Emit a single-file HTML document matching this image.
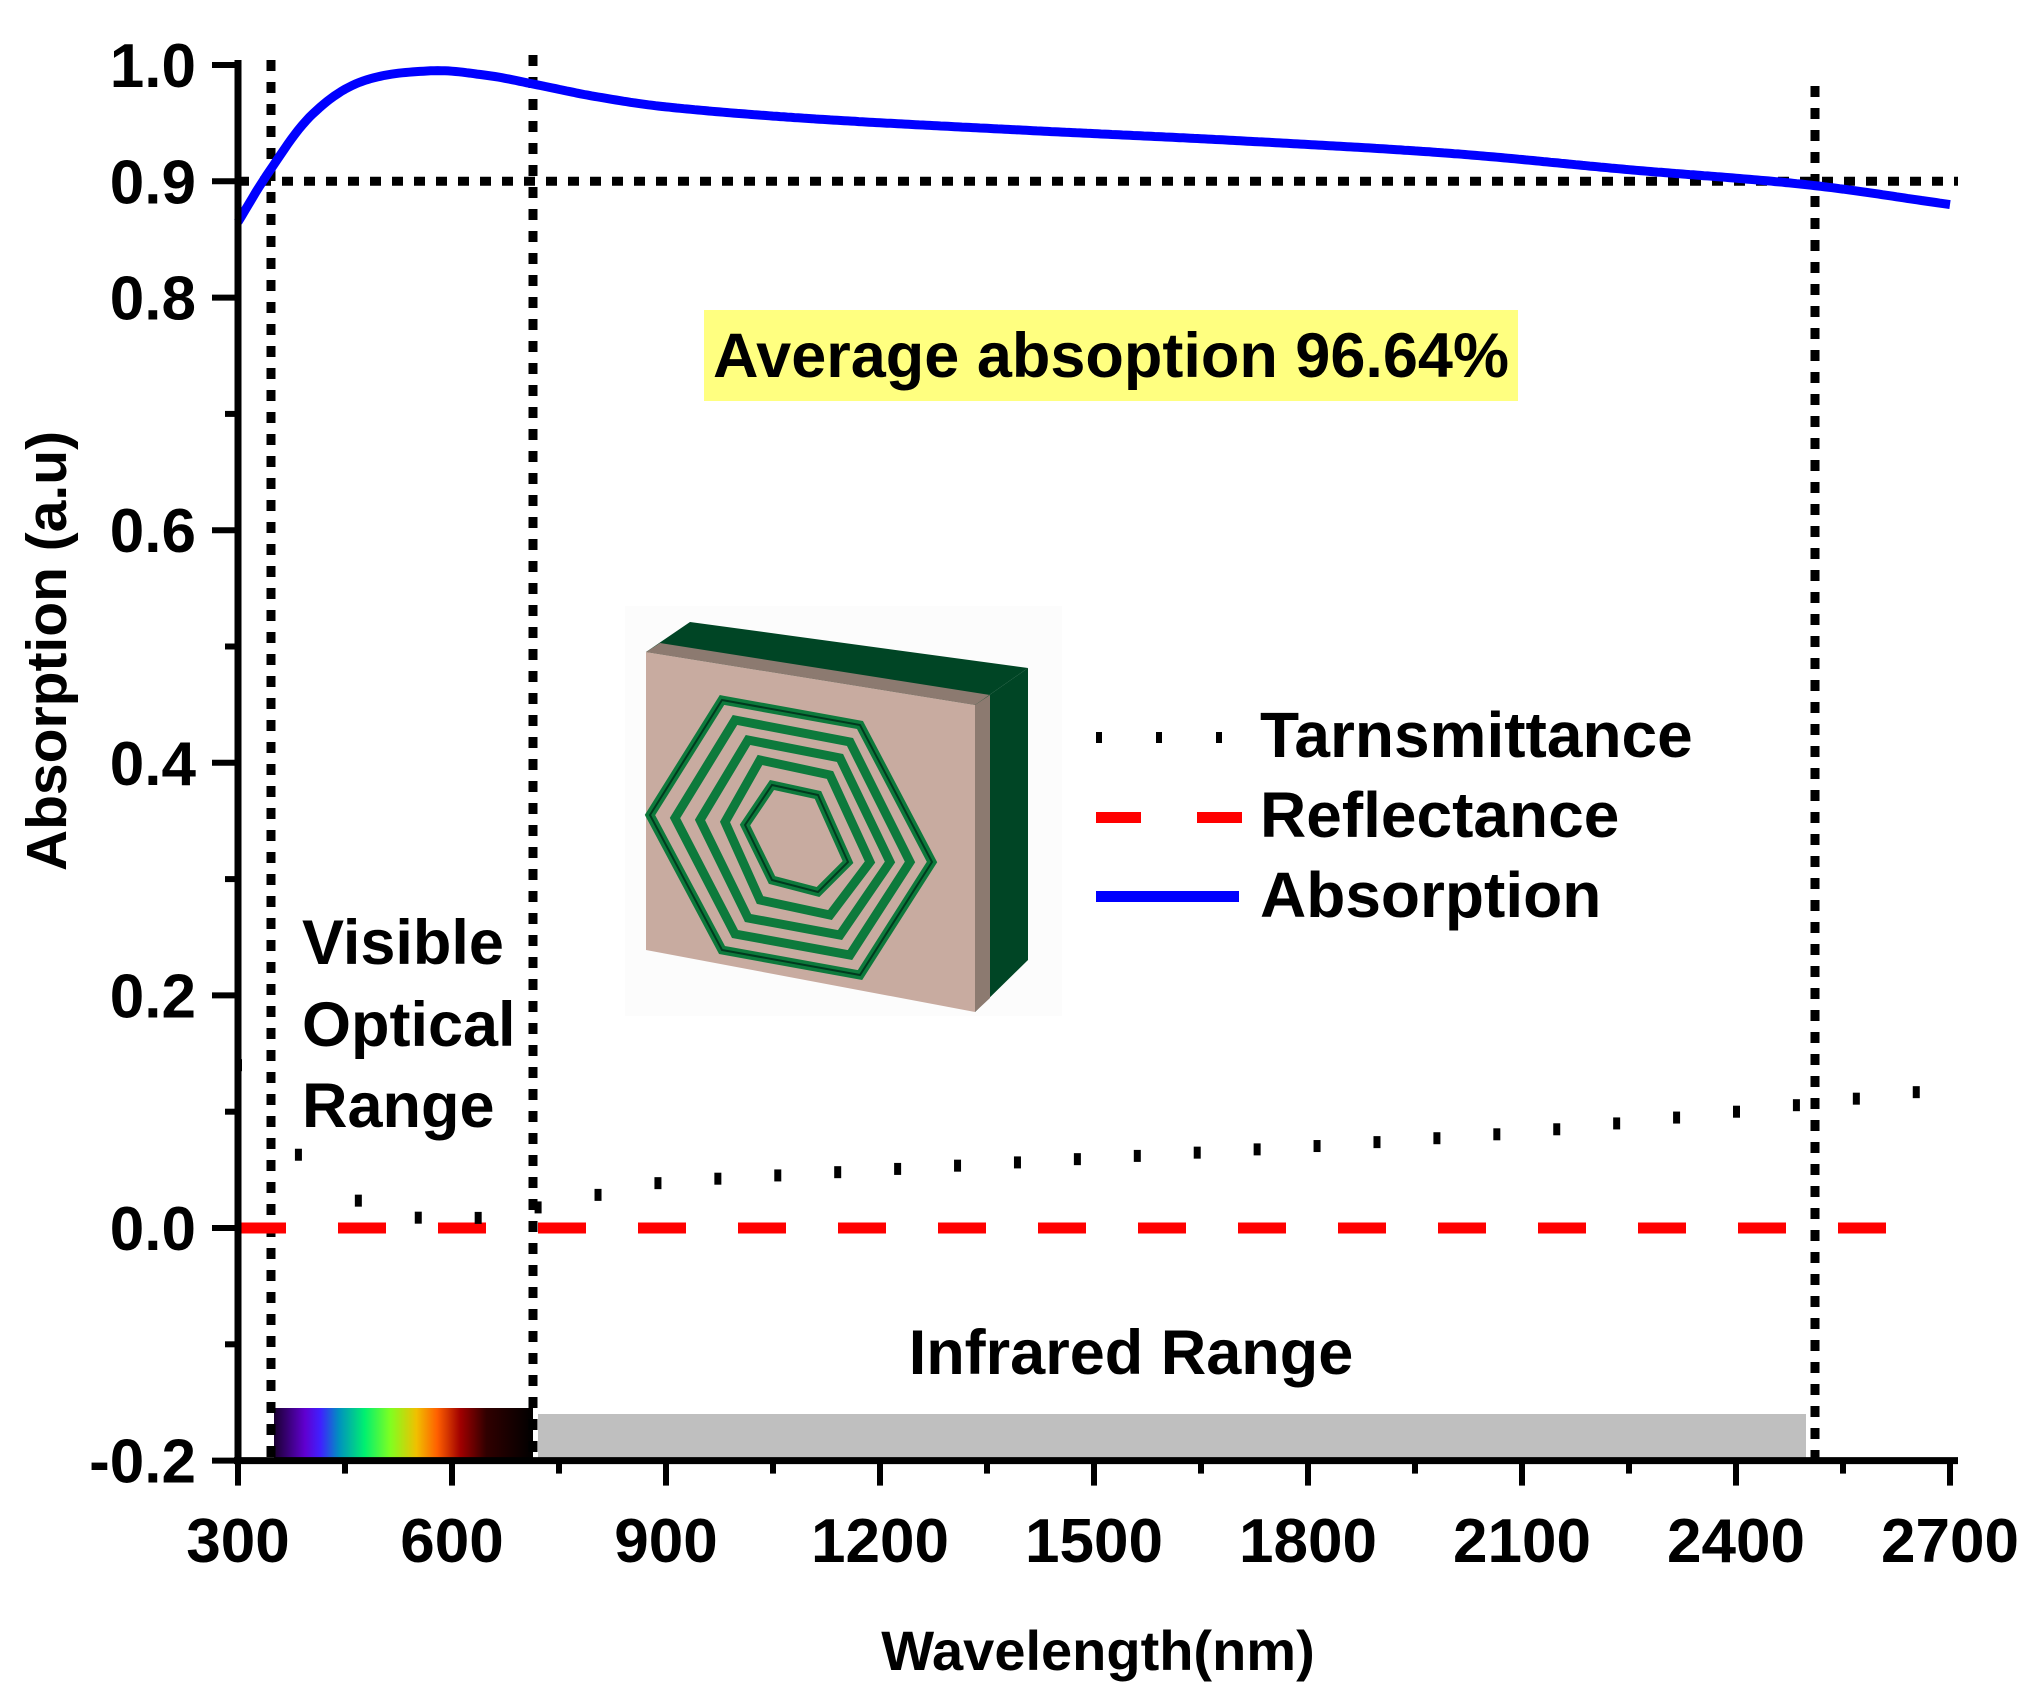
<!DOCTYPE html>
<html><head><meta charset="utf-8"><style>
html,body{margin:0;padding:0;background:#fff;}
svg{display:block;}
text{font-family:"Liberation Sans",Arial,sans-serif;font-weight:bold;fill:#000;}
</style></head><body>
<svg id="s" width="2033" height="1684" viewBox="0 0 2033 1684" xmlns="http://www.w3.org/2000/svg">
<defs>
<linearGradient id="spec" x1="0" x2="1" y1="0" y2="0">
<stop offset="0" stop-color="#1a0030"/>
<stop offset="0.12" stop-color="#6000d0"/>
<stop offset="0.18" stop-color="#4020ff"/>
<stop offset="0.25" stop-color="#0090c0"/>
<stop offset="0.35" stop-color="#00f070"/>
<stop offset="0.45" stop-color="#80ff20"/>
<stop offset="0.55" stop-color="#f0c000"/>
<stop offset="0.63" stop-color="#ff6000"/>
<stop offset="0.72" stop-color="#a00000"/>
<stop offset="0.82" stop-color="#300000"/>
<stop offset="1" stop-color="#000"/>
</linearGradient>
</defs>
<rect x="274" y="1408" width="259" height="51" fill="url(#spec)"/>
<rect x="538" y="1414" width="1268" height="45" fill="#bfbfbf"/>
<rect x="704" y="310" width="814" height="91" fill="#ffff80"/>
<text x="1111" y="377" font-size="63" text-anchor="middle">Average absoption 96.64%</text>
<g>
<rect x="625" y="606" width="437" height="410" fill="#fcfcfc"/>
<polygon points="646,652 690,622 1028,668 975,705" fill="#004525"/>
<polygon points="646,652 975,705 975,1012 646,950" fill="#c8aba0"/>
<polygon points="646,652 660,643 990,695 975,705" fill="#8c7a70"/>
<polygon points="975,705 1028,668 1028,960 975,1012" fill="#004525"/>
<polygon points="975,705 990,695 990,998 975,1012" fill="#8c7a70"/>
<g fill="none" stroke="#0d7a3c" stroke-width="9">
<polygon points="722,700 860,725 932,862 860,975 722,950 650,815"/>
<polygon points="735,720 850,742 910,862 850,955 735,934 675,818"/>
<polygon points="748,740 840,758 890,862 840,935 748,918 700,820"/>
<polygon points="760,760 830,775 870,862 830,915 760,900 725,822"/>
<polygon points="772,785 818,795 848,862 818,892 772,880 745,825"/>
</g>
<g fill="none" stroke="#003a1e" stroke-width="2">
<polygon points="722,700 860,725 932,862 860,975 722,950 650,815"/>
<polygon points="772,785 818,795 848,862 818,892 772,880 745,825"/>
</g>
</g>
<g fill="#000">
<rect x="1096" y="732" width="6" height="11"/><rect x="1156" y="732" width="6" height="11"/><rect x="1216" y="732" width="6" height="11"/>
</g>
<rect x="1096" y="812" width="45" height="11" fill="#f00"/><rect x="1197" y="812" width="45" height="11" fill="#f00"/>
<rect x="1096" y="891" width="143" height="11" fill="#00f"/>
<text x="1260" y="757" font-size="64">Tarnsmittance</text>
<text x="1260" y="837" font-size="64">Reflectance</text>
<text x="1260" y="917" font-size="64">Absorption</text>
<text x="302" y="964" font-size="63">Visible</text>
<text x="302" y="1046" font-size="63">Optical</text>
<text x="302" y="1127" font-size="63">Range</text>
<text x="1131" y="1374" font-size="63" text-anchor="middle">Infrared Range</text>
<g id="plot"></g>
<text x="1098" y="1670" font-size="56" text-anchor="middle">Wavelength(nm)</text>
<text transform="translate(66,651) rotate(-90)" font-size="57" text-anchor="middle">Absorption (a.u)</text>
</svg>
<script>
var g=document.getElementById('plot'),NS="http://www.w3.org/2000/svg";
function X(w){return 238+(w-300)*214/300;}
function Y(v){return 1228-v*1163;}
function el(t,a){var e=document.createElementNS(NS,t);for(var k in a)e.setAttribute(k,a[k]);g.appendChild(e);return e;}
function interp(pts,w){for(var i=0;i<pts.length-1;i++){if(w>=pts[i][0]&&w<=pts[i+1][0]){var t=(w-pts[i][0])/(pts[i+1][0]-pts[i][0]);return pts[i][1]+(pts[i+1][1]-pts[i][1])*t;}}return pts[pts.length-1][1];}
var dl={stroke:"#000","stroke-width":9,"stroke-dasharray":"11 11",fill:"none"};
function L(x1,y1,x2,y2,a){var o={x1:x1,y1:y1,x2:x2,y2:y2};for(var k in a)o[k]=a[k];el('line',o);}
var YB=Y(-0.2);
L(238,Y(0.9),1958,Y(0.9),dl);
L(271,60,271,YB,dl);L(533,55,533,YB,dl);L(1815,86,1815,YB,dl);
L(238,Y(0),1900,Y(0),{stroke:"#f00","stroke-width":11,"stroke-dasharray":"48 52"});
var T=[[300,0.14],[330,0.10],[380,0.065],[450,0.03],[500,0.012],[600,0.006],[680,0.012],[750,0.022],[900,0.04],[1200,0.05],[1500,0.06],[1800,0.07],[2100,0.082],[2400,0.1],[2700,0.12]];
for(var w=300;w<=2660;w+=84){el('rect',{x:X(w)-3,y:Y(interp(T,w))-6,width:7,height:12,fill:"#000"});}
var A=[[300,0.865],[340,0.905],[400,0.955],[470,0.985],[570,0.995],[650,0.991],[711,0.984],[800,0.973],[900,0.964],[1100,0.954],[1400,0.944],[1700,0.935],[2000,0.924],[2250,0.91],[2500,0.897],[2700,0.88]];
function cr(w){var p=A,i=0;while(i<p.length-2&&w>p[i+1][0])i++;var p0=p[Math.max(i-1,0)],p1=p[i],p2=p[i+1],p3=p[Math.min(i+2,p.length-1)];var t=(w-p1[0])/(p2[0]-p1[0]);
var m1=(p2[1]-p0[1])/(p2[0]-p0[0])*(p2[0]-p1[0]),m2=(p3[1]-p1[1])/(p3[0]-p1[0])*(p2[0]-p1[0]);var t2=t*t,t3=t2*t;return (2*t3-3*t2+1)*p1[1]+(t3-2*t2+t)*m1+(-2*t3+3*t2)*p2[1]+(t3-t2)*m2;}
var d="";for(var w=300;w<=2700;w+=5){d+=(w==300?"M":"L")+X(w).toFixed(1)+","+Y(cr(w)).toFixed(1);}
el('path',{d:d,stroke:"#00f","stroke-width":9,fill:"none"});
L(238,60,238,YB,{stroke:"#000","stroke-width":7});
L(234,YB,1958,YB,{stroke:"#000","stroke-width":7});
var yl=[[1.0,"1.0"],[0.9,"0.9"],[0.8,"0.8"],[0.6,"0.6"],[0.4,"0.4"],[0.2,"0.2"],[0,"0.0"],[-0.2,"-0.2"]];
for(var v=-0.2;v<=1.001;v+=0.1){var y=Y(v);var major=Math.abs(Math.round(v*10)%2)==0||Math.abs(v-0.9)<0.01;L(major?212:225,y,238,y,{stroke:"#000","stroke-width":6});}
yl.forEach(function(a){var t=el('text',{x:196,y:Y(a[0])+22,"font-size":62,"text-anchor":"end"});t.textContent=a[1];});
for(var w=300;w<=2700;w+=150){var x=X(w);var major=(w%300==0);L(x,YB,x,major?YB+25:YB+13,{stroke:"#000","stroke-width":6});if(major){var t=el('text',{x:x,y:1562,"font-size":62,"text-anchor":"middle"});t.textContent=w;}}
</script>
</body></html>
